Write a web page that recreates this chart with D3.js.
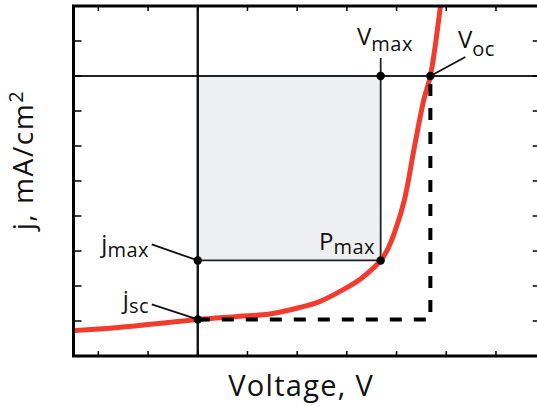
<!DOCTYPE html>
<html>
<head>
<meta charset="utf-8">
<script src="https://cdn.jsdelivr.net/npm/d3@7"></script>
<style>
  html, body { margin: 0; padding: 0; background: #fff; }
  svg { display: block; }
  text { font-family: "Open Sans", "DejaVu Sans", sans-serif; fill: #111; }
</style>
</head>
<body>
<svg id="chart" width="537" height="406"></svg>
<script>
// J–V characteristic of a solar cell (voltage in V, current density in mA/cm²)
const voltage = [-0.25, -0.16, -0.06, 0, 0.08, 0.145, 0.205, 0.245, 0.286, 0.326, 0.368, 0.382, 0.396, 0.416, 0.435, 0.455, 0.468, 0.49];
const current = [-14.55, -14.37, -14.09, -13.91, -13.74, -13.6, -13.23, -12.89, -12.31, -11.63, -10.54, -9.91, -8.94, -7.06, -4.2, -1.34, 0, 4.4];

// characteristic points
const Voc = 0.468;
const Vmax = 0.368;
const jmax = -10.54;
const jsc = -13.91;

// tick positions
const voltTicks = [-0.2, -0.1, 0, 0.1, 0.2, 0.3, 0.4, 0.5, 0.6];
const currTicks = [2, 0, -2, -4, -6, -8, -10, -12, -14];

const svg = d3.select("#chart");
const m = { left: 73.5, right: 540.7, top: 6, bottom: 356 };

const x = d3.scaleLinear().domain([-0.25, 0.69]).range([m.left, m.right]);
const y = d3.scaleLinear().domain([-16, 4]).range([m.bottom, m.top]);

svg.append("defs").append("clipPath").attr("id", "plotClip")
  .append("rect").attr("x", m.left).attr("y", m.top)
  .attr("width", m.right - m.left).attr("height", m.bottom - m.top);

const plot = svg.append("g").attr("clip-path", "url(#plotClip)");

// maximum power rectangle
plot.append("rect")
  .attr("x", x(0)).attr("y", y(0))
  .attr("width", x(Vmax) - x(0)).attr("height", y(jmax) - y(0))
  .attr("fill", "#eeeff1");

// zero-current and zero-voltage lines
plot.append("line")
  .attr("x1", m.left).attr("x2", m.right).attr("y1", y(0)).attr("y2", y(0))
  .attr("stroke", "#222").attr("stroke-width", 1.8);
plot.append("line")
  .attr("x1", x(0)).attr("x2", x(0)).attr("y1", m.top).attr("y2", m.bottom)
  .attr("stroke", "#111").attr("stroke-width", 2.4);

// rectangle edges at Vmax and jmax
plot.append("line")
  .attr("x1", x(Vmax)).attr("x2", x(Vmax)).attr("y1", y(0) - 18).attr("y2", y(jmax))
  .attr("stroke", "#222").attr("stroke-width", 1.8);
plot.append("line")
  .attr("x1", x(0)).attr("x2", x(Vmax)).attr("y1", y(jmax)).attr("y2", y(jmax))
  .attr("stroke", "#222").attr("stroke-width", 1.8);

// J–V curve
const line = d3.line()
  .x((d, i) => x(voltage[i]))
  .y((d, i) => y(current[i]))
  .curve(d3.curveCatmullRom.alpha(0.5));
plot.append("path")
  .datum(current)
  .attr("d", line)
  .attr("fill", "none")
  .attr("stroke", "#f23b2d")
  .attr("stroke-width", 5)
  .attr("stroke-linejoin", "round");

// ideal rectangle (jsc × Voc)
plot.append("path")
  .attr("d", d3.line()([[x(0), y(jsc)], [x(Voc), y(jsc)], [x(Voc), y(0)]]))
  .attr("fill", "none")
  .attr("stroke", "#000")
  .attr("stroke-width", 4)
  .attr("stroke-dasharray", "12,12");

// label leader lines
const leaders = [
  [[x(Voc), y(0)], [x(Voc) + 35, y(0) - 19]],
  [[x(0), y(jmax)], [x(0) - 46, y(jmax) - 16]],
  [[x(0), y(jsc)], [x(0) - 46, y(jsc) - 15]]
];
svg.selectAll(".leader").data(leaders).join("path")
  .attr("class", "leader")
  .attr("d", d => d3.line()(d))
  .attr("stroke", "#111").attr("stroke-width", 1.8).attr("fill", "none");

// points
const pts = [[0, jsc], [0, jmax], [Vmax, jmax], [Vmax, 0], [Voc, 0]];
svg.selectAll(".pt").data(pts).join("circle")
  .attr("class", "pt")
  .attr("cx", d => x(d[0])).attr("cy", d => y(d[1]))
  .attr("r", 4.2).attr("fill", "#000");

// frame
const frame = svg.append("g");
frame.append("path")
  .attr("d", `M${m.right},${m.top}H${m.left}V${m.bottom}H${m.right}V${m.top}`)
  .attr("fill", "none").attr("stroke", "#000").attr("stroke-width", 3);

// ticks pointing inward
frame.selectAll(".tb").data(voltTicks).join("line")
  .attr("x1", d => x(d)).attr("x2", d => x(d))
  .attr("y1", m.bottom).attr("y2", m.bottom - 5)
  .attr("stroke", "#000").attr("stroke-width", 1.5);
frame.selectAll(".tt").data(voltTicks).join("line")
  .attr("x1", d => x(d)).attr("x2", d => x(d))
  .attr("y1", m.top).attr("y2", m.top + 5)
  .attr("stroke", "#000").attr("stroke-width", 1.5);
frame.selectAll(".tl").data(currTicks).join("line")
  .attr("x1", m.left).attr("x2", m.left + 8)
  .attr("y1", d => y(d)).attr("y2", d => y(d))
  .attr("stroke", "#000").attr("stroke-width", 1.5);
frame.selectAll(".tr").data(currTicks).join("line")
  .attr("x1", m.right).attr("x2", m.right - 8)
  .attr("y1", d => y(d)).attr("y2", d => y(d))
  .attr("stroke", "#000").attr("stroke-width", 1.5);

// annotation labels with subscripts
function subLabel(px, py, main, sub, anchor, dy) {
  const t = svg.append("text")
    .attr("x", px).attr("y", py)
    .attr("text-anchor", anchor)
    .style("font-size", "24px");
  t.append("tspan").text(main);
  t.append("tspan").attr("dy", dy).style("font-size", "20px").style("letter-spacing", "0.5px").text(sub);
  return t;
}
subLabel(357, 45, "V", "max", "start", 6);
subLabel(458, 48, "V", "oc", "start", 8);
subLabel(375, 250, "P", "max", "end", 4);
subLabel(149, 252, "j", "max", "end", 5);
subLabel(149, 308, "j", "sc", "end", 5);

// axis titles
svg.append("text")
  .attr("x", x(0.208)).attr("y", 396)
  .attr("text-anchor", "middle")
  .style("font-size", "29px")
  .style("letter-spacing", "1.3px")
  .text("Voltage, V");

const yl = svg.append("text")
  .attr("transform", `translate(33,${y(-4.8)}) rotate(-90)`)
  .attr("text-anchor", "middle")
  .style("font-size", "28px")
  .style("letter-spacing", "1.6px");
yl.append("tspan").text("j, mA/cm");
yl.append("tspan").attr("dy", -10).style("font-size", "20px").text("2");
</script>
</body>
</html>
